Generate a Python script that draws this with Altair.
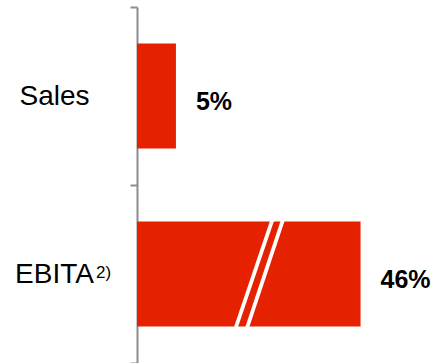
import altair as alt
import pandas as pd

# ---- data ----
categories = ["Sales", "EBITA"]
values = [5, 46]                      # growth in %
value_labels = ["5%", "46%"]
bar_lengths = [5, 28.7]               # EBITA bar is drawn truncated (broken bar)
footnote_cat = ["EBITA"]
footnote_text = ["2)"]
# break marks on the EBITA bar (x in data units at top / bottom of the slash)
break_top = [17.42, 18.78]
break_bottom = [12.62, 14.07]

RED = "#E62100"
GREY = "#8c8c8c"
FONT = "Liberation Sans"

df = pd.DataFrame({"cat": categories, "value": values,
                   "label": value_labels, "length": bar_lengths})
brk = pd.DataFrame({"cat": ["EBITA"] * len(break_top),
                    "top": break_top, "bottom": break_bottom})
sup = pd.DataFrame({"cat": footnote_cat, "note": footnote_text,
                    "zero": [0] * len(footnote_cat)})

y_scale = alt.Scale(domain=categories, paddingInner=0, paddingOuter=0)
y_axis = alt.Axis(title=None, tickBand="extent", domainColor=GREY, domainWidth=2,
                  tickColor=GREY, tickWidth=2, tickSize=7, labelFont=FONT,
                  labelFontSize=28, labelColor="black", labelAlign="center",
                  labelPadding=76, labelBaseline="middle", grid=False)
x_scale = alt.Scale(domain=[0, 38], nice=False, zero=True)


def y_enc(**kw):
    return alt.Y("cat:N", sort=categories, scale=y_scale, axis=y_axis, **kw)


bars = alt.Chart(df).mark_bar(color=RED, size=105).encode(
    y=y_enc(),
    x=alt.X("length:Q", scale=x_scale, axis=None),
)

breaks = alt.Chart(brk).mark_rule(color="white", strokeWidth=3.8).encode(
    y=y_enc(bandPosition=0.19),
    y2=alt.Y2("cat:N", bandPosition=0.81),
    x=alt.X("top:Q", scale=x_scale, axis=None),
    x2="bottom:Q",
)

vals = alt.Chart(df).mark_text(align="left", baseline="middle", dx=20, dy=6,
                               fontSize=25, fontWeight="bold", font=FONT,
                               color="black").encode(
    y=y_enc(),
    x=alt.X("length:Q", scale=x_scale, axis=None),
    text="label:N",
)

notes = alt.Chart(sup).mark_text(align="left", baseline="alphabetic", dx=-41, dy=4,
                                 fontSize=17, font=FONT, color="black").encode(
    y=y_enc(),
    x=alt.X("zero:Q", scale=x_scale, axis=None),
    text="note:N",
)

chart = alt.layer(bars, breaks, vals, notes).properties(
    width=296, height=356,
    autosize=alt.AutoSizeParams(type="none"),
    padding={"left": 137, "top": 7, "right": 0, "bottom": 0},
    background="white",
).configure_view(strokeWidth=0)

chart.save("out.html", embed_options={"renderer": "svg", "actions": False})
